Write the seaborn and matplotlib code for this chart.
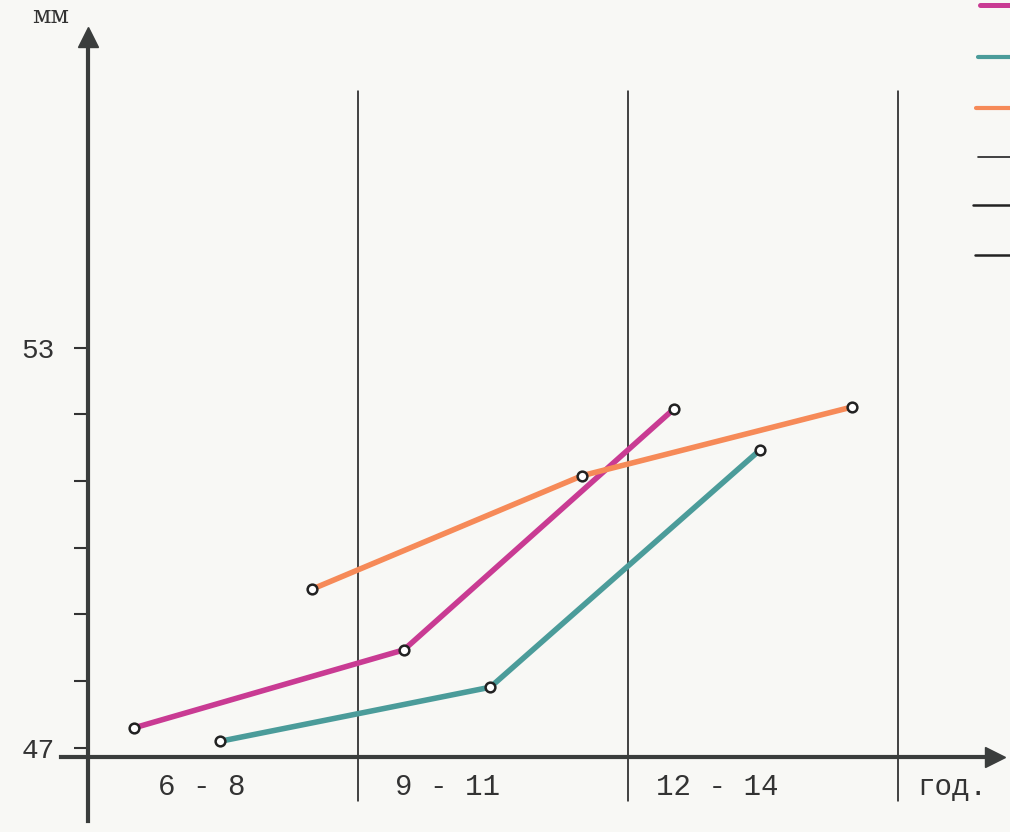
import numpy as np
import pandas as pd
import matplotlib.pyplot as plt
import seaborn as sns
from matplotlib.lines import Line2D

# age groups (x categories) and values in mm
groups = ["6 - 8", "9 - 11", "12 - 14"]
series_names = ["magenta", "teal", "orange"]
magenta_vals = [47.30, 48.47, 52.08]
teal_vals = [47.10, 47.91, 51.47]
orange_vals = [49.38, 51.08, 52.11]
colors = ["#c93b93", "#4b9c9a", "#f68a58"]
y_ticks = [47, 48, 49, 50, 51, 52, 53]
y_ticklabels = ["47", "", "", "", "", "", "53"]

sns.set_theme(style="white")
plt.rcParams['font.family'] = ['Liberation Mono', 'DejaVu Sans']

# within-group offsets for each series
offsets = {"magenta": 0.17, "teal": 0.49, "orange": 0.83}
rows = []
for name, vals in zip(series_names, [magenta_vals, teal_vals, orange_vals]):
    for i, v in enumerate(vals):
        rows.append({"series": name, "x": i + offsets[name], "mm": v})
df = pd.DataFrame(rows)

bg = "#f8f8f5"
fig = plt.figure(figsize=(10.10, 8.32), dpi=100, facecolor=bg)
ax = fig.add_axes([0, 0, 1, 1])
ax.set_facecolor(bg)

# group divider lines
for k in range(1, len(groups) + 1):
    ax.plot([k, k], [46.2, 56.85], color="#111111", lw=1.1, zorder=1)

sns.lineplot(data=df, x="x", y="mm", hue="series", palette=colors,
             hue_order=series_names, lw=4.0, legend=False, ax=ax,
             marker="o", markersize=7, markerfacecolor="white",
             markeredgecolor="#222222", markeredgewidth=1.8, zorder=3)

ax.set_xlim(-0.326, 3.415)
ax.set_ylim(45.74, 58.21)

# axes as spines through the origin
axis_col = "#3a3d3c"
for s in ["top", "right"]:
    ax.spines[s].set_visible(False)
ax.spines["left"].set_position(("data", 0))
ax.spines["bottom"].set_position(("data", 46.87))
ax.spines["left"].set_bounds(45.9, 57.6)
ax.spines["bottom"].set_bounds(-0.1, 3.33)
for s in ["left", "bottom"]:
    ax.spines[s].set_color(axis_col)
    ax.spines[s].set_linewidth(3)
ax.plot([0], [57.65], marker="^", ms=15, color=axis_col, clip_on=False, zorder=4)
ax.plot([3.36], [46.87], marker=">", ms=15, color=axis_col, clip_on=False, zorder=4)

ax.set_yticks(y_ticks)
ax.set_yticklabels(y_ticklabels, fontsize=20, color="#333333")
ax.tick_params(axis="y", direction="out", length=10, width=1.5,
               color="#333333", pad=14, left=True)

ax.set_xticks([0.42, 1.33, 2.33, 3.2])
ax.set_xticklabels(groups + ["год."], fontsize=21, color="#333333")
ax.tick_params(axis="x", length=0, pad=12)
ax.set_xlabel("")
ax.set_ylabel("")

ax.text(-0.14, 57.97, "мм", fontsize=17, family="DejaVu Serif",
        color="#333333", ha="center", va="center")

# cut-off legend swatches at top right
swatches = [(colors[0], 0.994, 3.6), (colors[1], 0.931, 3.0),
            (colors[2], 0.870, 3.0), ("#222222", 0.811, 1.2),
            ("#222222", 0.754, 1.8), ("#222222", 0.693, 1.8)]
starts = [0.970, 0.968, 0.966, 0.968, 0.963, 0.965]
for (c, yf, lw), x0 in zip(swatches, starts):
    fig.add_artist(Line2D([x0, 1.0], [yf, yf], color=c, lw=lw))

fig.savefig("out.png", dpi=100, facecolor=bg)
